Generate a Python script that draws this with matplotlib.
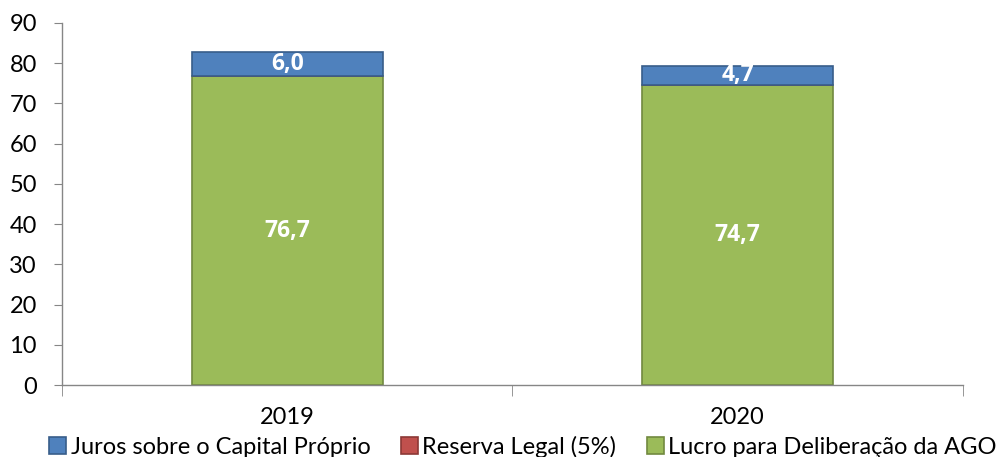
import matplotlib
matplotlib.use("Agg")
import matplotlib.pyplot as plt
import numpy as np

years = ["2019", "2020"]
juros = [6.0, 4.7]
reserva = [0.0, 0.0]
lucro = [76.7, 74.7]
series_names = ["Juros sobre o Capital Próprio", "Reserva Legal (5%)", "Lucro para Deliberação da AGO"]
yticks = list(range(0, 100, 10))

plt.rcParams['font.family'] = ['Lato', 'DejaVu Sans']

fig = plt.figure(figsize=(10.06, 4.57), dpi=100)
ax = fig.add_axes([0.0616, 0.1575, 0.8955, 0.7922])

x = np.arange(len(years))
w = 0.424
lucro_c = "#9BBB59"; lucro_e = "#71893F"
res_c = "#C0504D"; res_e = "#8C3836"
jur_c = "#4F81BD"; jur_e = "#385D8A"

b_l = ax.bar(x, lucro, w, color=lucro_c, edgecolor=lucro_e, linewidth=1.2, label=series_names[2])
bottom2 = np.array(lucro)
b_r = ax.bar(x, reserva, w, bottom=bottom2, color=res_c, edgecolor=res_e, linewidth=1.2, label=series_names[1])
bottom3 = bottom2 + np.array(reserva)
b_j = ax.bar(x, juros, w, bottom=bottom3, color=jur_c, edgecolor=jur_e, linewidth=1.2, label=series_names[0])

lab_font = dict(color="white", fontsize=16.5, fontweight="bold", family=["Open Sans", "DejaVu Sans"])
for i in range(len(years)):
    ax.text(x[i], lucro[i] / 2, f"{lucro[i]:.1f}".replace(".", ","), ha="center", va="center", **lab_font)
    ax.text(x[i], bottom3[i] + juros[i] / 2, f"{juros[i]:.1f}".replace(".", ","), ha="center", va="center", **lab_font)

ax.set_xlim(-0.5, len(years) - 0.5)
ax.set_ylim(0, 90)
ax.set_yticks(yticks)
ax.tick_params(axis="y", labelsize=17, length=6, color="#868686", direction="out", pad=12)
ax.set_xticks(x)
ax.set_xticklabels(years, fontsize=17)
ax.tick_params(axis="x", length=0, pad=16)
ax.set_xticks([-0.5, 0.5, 1.5], minor=True)
ax.tick_params(axis="x", which="minor", length=8, color="#868686", direction="out")

for s in ["top", "right"]:
    ax.spines[s].set_visible(False)
for s in ["left", "bottom"]:
    ax.spines[s].set_color("#868686")
    ax.spines[s].set_linewidth(1.0)

handles = [b_j, b_r, b_l]
leg = fig.legend(handles, series_names, loc="center", bbox_to_anchor=(0.52, 0.022), ncol=3,
                 frameon=False, fontsize=17, handlelength=0.7, handleheight=0.7,
                 handletextpad=0.2, columnspacing=1.3, borderaxespad=0)

fig.savefig("out.png", dpi=100)
